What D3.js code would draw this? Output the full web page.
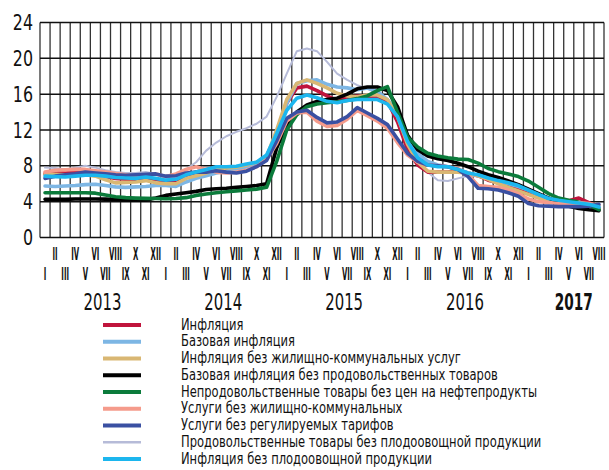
<!DOCTYPE html>
<html>
<head>
<meta charset="utf-8">
<script src="https://cdn.jsdelivr.net/npm/d3@7"></script>
<style>
  body { margin: 0; background: #fff; }
  svg text { font-family: "DejaVu Sans Condensed", "DejaVu Sans", sans-serif; font-stretch: condensed; fill: #111; }
</style>
</head>
<body>
<svg id="chart" width="609" height="470"></svg>
<script>
// monthly data, Jan 2013 .. Aug 2017, % yoy
var months = ["I","II","III","IV","V","VI","VII","VIII","IX","X","XI","XII"];
var years = ["2013","2014","2015","2016","2017"];
var yTicks = [0,4,8,12,16,20,24];

var names = [
  "Инфляция",
  "Базовая инфляция",
  "Инфляция без жилищно-коммунальных услуг",
  "Базовая инфляция без продовольственных товаров",
  "Непродовольственные товары без цен на нефтепродукты",
  "Услуги без жилищно-коммунальных",
  "Услуги без регулируемых тарифов",
  "Продовольственные товары без плодоовощной продукции",
  "Инфляция без плодоовощной продукции"
];
var colors = ["#c0143c","#7db6e4","#d9b773","#000000","#0b7b3b","#f59b8b","#3a50a2","#b6bbd8","#1cb6ee"];

var inflation = [
  7.1,7.3,7.2,7.3,7.4,7.0,6.8,6.6,6.5,6.4,6.5,6.5,
  6.2,6.3,6.9,7.3,7.6,7.8,7.5,7.6,8.0,8.3,9.1,11.4,
  15.0,16.7,16.9,16.4,15.8,15.3,15.6,15.8,15.7,15.6,15.2,12.9,
  9.8,8.1,7.3,7.3,7.3,7.5,7.2,6.9,6.4,6.1,5.8,5.4,
  5.0,4.6,4.3,4.1,4.1,4.4,3.9,3.3
];
var coreInfl = [
  5.75,5.7,5.75,5.8,5.9,5.95,5.8,5.65,5.6,5.65,5.7,5.8,
  5.8,5.7,6.2,6.6,6.9,7.2,7.4,7.6,7.9,8.3,8.85,10.9,
  15.0,17.2,17.5,17.6,17.1,16.8,16.7,16.5,16.7,16.3,15.4,13.9,
  10.9,9.4,8.5,8.1,7.9,7.6,7.2,6.9,6.6,6.3,6.0,5.7,
  5.3,4.8,4.4,4.1,3.9,3.7,3.5,3.2
];
var noHousing = [
  7.1,7.05,7.0,7.0,7.0,6.85,6.45,6.1,6.15,6.2,6.35,6.1,
  6.0,6.0,6.6,6.9,7.2,7.6,7.75,7.85,8.1,8.4,9.0,12.0,
  15.4,17.2,17.6,17.2,16.7,16.1,15.8,15.7,15.9,15.9,15.4,13.5,
  10.4,8.4,7.4,7.3,7.3,7.3,7.2,6.9,6.5,6.0,5.6,5.2,
  4.8,4.4,4.1,3.9,3.8,3.9,3.6,3.2
];
var coreNonFood = [
  4.26,4.26,4.26,4.3,4.3,4.3,4.28,4.25,4.2,4.2,4.2,4.4,
  4.7,4.85,5.0,5.15,5.35,5.45,5.5,5.6,5.7,5.8,6.0,10.0,
  12.6,14.0,14.8,15.2,15.4,15.55,16.0,16.6,16.8,16.8,16.4,14.6,
  11.4,9.8,9.1,8.8,8.6,8.3,7.9,7.4,7.0,6.7,6.3,5.9,
  5.4,4.9,4.4,3.9,3.5,3.25,3.1,3.0
];
var nonFoodNoFuel = [
  5.0,5.0,5.0,5.0,5.0,4.95,4.75,4.55,4.45,4.4,4.37,4.35,
  4.33,4.35,4.45,4.7,4.85,5.0,5.1,5.2,5.3,5.4,5.6,8.5,
  12.0,13.7,14.6,14.9,15.05,15.15,15.3,15.5,15.8,16.4,16.85,14.0,
  11.2,10.1,9.4,9.1,8.9,8.75,8.7,8.3,7.7,7.35,7.1,6.8,
  6.3,5.6,4.9,4.4,4.15,3.95,3.65,3.1
];
var servNoHousing = [
  7.3,7.5,7.55,7.6,7.6,7.45,7.3,7.15,7.0,6.85,6.9,7.1,
  6.8,7.1,7.6,7.9,7.6,7.3,7.2,7.3,7.5,7.9,8.7,10.5,
  13.0,13.9,14.0,13.0,12.4,12.5,13.2,14.2,13.6,13.0,12.2,10.6,
  9.2,8.4,8.1,8.0,7.9,7.7,7.0,5.8,5.7,5.6,5.3,4.9,
  4.3,4.0,3.9,3.8,3.8,3.9,3.8,3.6
];
var servNoRegulated = [
  6.6,6.85,7.0,7.1,7.3,7.2,7.1,7.0,6.95,7.0,7.05,7.1,
  6.85,6.9,7.2,7.3,7.3,7.45,7.3,7.2,7.4,7.9,8.6,10.8,
  13.3,14.0,14.2,13.4,12.8,12.9,13.5,14.5,13.9,13.3,12.6,11.0,
  9.4,8.5,8.1,8.0,7.9,7.6,6.8,5.5,5.45,5.3,5.0,4.6,
  3.8,3.55,3.5,3.45,3.45,3.45,3.5,3.7
];
var foodNoFruitVeg = [
  7.8,7.75,7.6,7.8,8.0,7.8,7.5,7.3,7.2,7.2,7.3,7.1,
  6.5,6.8,7.6,8.4,9.7,10.6,11.3,11.8,12.2,12.7,13.5,15.7,
  18.3,20.8,21.1,20.8,19.6,18.3,17.6,17.0,16.6,16.1,15.3,13.3,
  10.8,8.6,7.3,6.4,6.3,6.6,6.9,6.8,6.5,6.2,5.9,5.6,
  5.1,4.6,4.3,4.0,3.8,3.6,3.3,2.9
];
var noFruitVeg = [
  6.85,6.8,6.75,6.85,6.95,6.95,6.85,6.7,6.65,6.6,6.75,6.6,
  6.4,6.5,7.0,7.3,7.6,7.9,7.9,7.95,8.2,8.4,9.2,11.6,
  14.2,15.55,15.9,15.6,15.2,15.05,15.3,15.4,15.4,15.4,14.9,13.5,
  10.7,8.9,8.1,7.9,7.9,7.6,7.2,7.0,6.65,6.35,6.1,5.8,
  5.3,4.8,4.35,4.15,4.0,3.85,3.7,3.4
];

var series = [inflation, coreInfl, noHousing, coreNonFood, nonFoodNoFuel,
              servNoHousing, servNoRegulated, foodNoFruitVeg, noFruitVeg];
var nMonths = inflation.length;

var svg = d3.select("#chart");
var plotLeft = 40, plotRight = 604, plotTop = 22.5, plotBottom = 237.5;

var x = d3.scaleLinear().domain([0, 56]).range([plotLeft, plotRight]);
var y = d3.scaleLinear().domain([0, 24]).range([plotBottom, plotTop]);

// squeeze text horizontally, the original uses a very narrow face
function narrow(sel, k) {
  sel.each(function() {
    var w = this.getComputedTextLength();
    d3.select(this).attr("textLength", w * k).attr("lengthAdjust", "spacingAndGlyphs");
  });
}

// grid
var grid = svg.append("g").attr("class","grid");
grid.selectAll("line.v")
  .data(d3.range(0, 57))
  .enter().append("line")
  .attr("class","v")
  .attr("x1", function(d){ return x(d); })
  .attr("x2", function(d){ return x(d); })
  .attr("y1", plotTop).attr("y2", plotBottom)
  .attr("stroke", "#333").attr("stroke-width", 1.3);
grid.selectAll("line.h")
  .data(yTicks)
  .enter().append("line")
  .attr("class","h")
  .attr("x1", plotLeft).attr("x2", plotRight)
  .attr("y1", function(d){ return y(d); })
  .attr("y2", function(d){ return y(d); })
  .attr("stroke", "#111").attr("stroke-width", 1.5);

// y axis labels
var yAxis = d3.axisLeft(y).tickValues(yTicks).tickSize(0).tickPadding(7);
var ya = svg.append("g").attr("transform","translate(" + plotLeft + ",0)").call(yAxis);
ya.select(".domain").remove();
ya.selectAll("text").attr("font-family", null).style("font-size","22px").attr("fill","#111");
narrow(ya.selectAll("text"), 0.8);

// lines
var line = d3.line()
  .x(function(d, i){ return x(i + 0.5); })
  .y(function(d){ return y(d); });

var drawOrder = [7, 0, 1, 2, 3, 4, 5, 6, 8];
svg.append("g").selectAll("path")
  .data(drawOrder)
  .enter().append("path")
  .attr("d", function(k){ return line(series[k]); })
  .attr("fill","none")
  .attr("stroke", function(k){ return colors[k]; })
  .attr("stroke-width", function(k){ return k === 7 ? 2 : 3.6; })
  .attr("stroke-linejoin","round")
  .attr("stroke-linecap","round");

// month labels
var ml = svg.append("g").attr("class","months").selectAll("text")
  .data(d3.range(nMonths))
  .enter().append("text")
  .attr("x", function(i){ return x(i + 0.5); })
  .attr("y", function(i){ return i % 2 ? 255 : 275; })
  .attr("text-anchor","middle")
  .attr("dominant-baseline","middle")
  .style("font-size","17px")
  .style("font-weight","bold")
  .text(function(i){ return months[i % 12]; });
narrow(ml, 0.45);

// years
var yl = svg.append("g").selectAll("text")
  .data(years)
  .enter().append("text")
  .attr("x", function(d, k){
    var last = Math.min(12 * k + 12, nMonths);
    return k < 4 ? x(12 * k + 6.2) : x((12 * k + last) / 2 + 1);
  })
  .attr("y", 303)
  .attr("text-anchor","middle")
  .attr("dominant-baseline","middle")
  .style("font-size","23px")
  .style("font-weight", function(d, k){ return k === 4 ? "bold" : "normal"; })
  .text(function(d){ return d; });
narrow(yl, 0.72);
yl.filter(function(d, k){ return k === 4; }).attr("textLength", 38);

// legend
var rows = svg.append("g").attr("class","legend").selectAll("g")
  .data(names)
  .enter().append("g")
  .attr("transform", function(d, i){ return "translate(0," + (325 + i * 16.75) + ")"; });
rows.append("line")
  .attr("x1", 103).attr("x2", 141)
  .attr("stroke", function(d, i){ return colors[i]; })
  .attr("stroke-width", function(d, i){ return i === 7 ? 2.5 : 4; });
var lt = rows.append("text")
  .attr("x", 181)
  .attr("dominant-baseline","middle")
  .style("font-size","16px")
  .text(function(d){ return d; });
narrow(lt, 0.8);
</script>
</body>
</html>
